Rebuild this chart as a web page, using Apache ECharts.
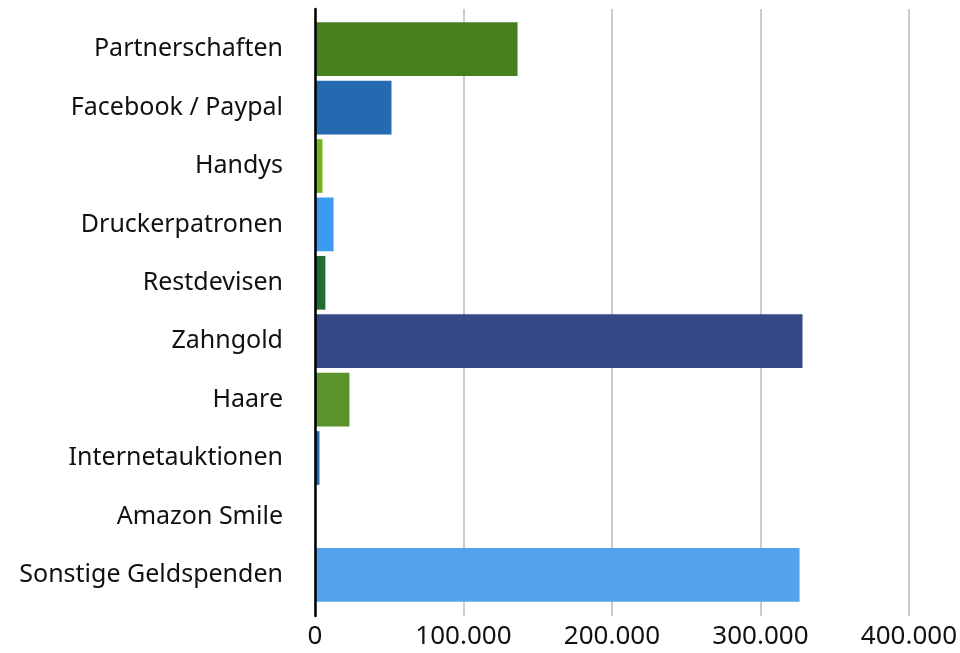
<!DOCTYPE html>
<html><head><meta charset="utf-8">
<script src="https://cdn.jsdelivr.net/npm/echarts@6/dist/echarts.min.js"></script>
<style>html,body{margin:0;padding:0;background:#fff}#c{width:960px;height:653px}</style>
</head><body><div id="c"></div>
<script>
const categories = ["Partnerschaften","Facebook / Paypal","Handys","Druckerpatronen","Restdevisen","Zahngold","Haare","Internetauktionen","Amazon Smile","Sonstige Geldspenden"];
const values = [136400, 51500, 5000, 12500, 7000, 328300, 23200, 3000, 0, 326300];
const colors = ["#467f1e","#2569b0","#76b41e","#3a9bf0","#236b32","#364886","#5a922c","#2569b0","#2569b0","#52a3ec"];
const xTicks = [0, 100000, 200000, 300000, 400000];

const fmt = v => String(v).replace(/\B(?=(\d{3})+(?!\d))/g, '.');
const FONT = '"Noto Sans", sans-serif';
const chart = echarts.init(document.getElementById('c'), null, {renderer:'canvas'});
chart.setOption({
  animation:false,
  grid:[
    {left:315, right:51, top:9, bottom:37},
    {left:315, right:51, top:20, bottom:49}
  ],
  xAxis:[
    {gridIndex:0, type:'value', min:xTicks[0], max:xTicks[xTicks.length-1], interval:100000,
     axisLine:{show:false}, axisTick:{show:false},
     splitLine:{show:true, lineStyle:{color:'#cccccc', width:2}},
     axisLabel:{formatter:fmt, fontSize:26, color:'#111', fontFamily:FONT, margin:8}},
    {gridIndex:1, type:'value', min:xTicks[0], max:xTicks[xTicks.length-1], interval:100000, show:false}
  ],
  yAxis:[
    {gridIndex:0, type:'value', min:0, max:1, axisLabel:{show:false}, splitLine:{show:false}, axisTick:{show:false},
     axisLine:{show:true, lineStyle:{color:'#000', width:2.5}}, z:10},
    {gridIndex:1, type:'category', data:categories, inverse:true,
     axisLine:{show:false}, axisTick:{show:false}, splitLine:{show:false},
     axisLabel:{fontSize:25, color:'#111', fontFamily:FONT, margin:32}}
  ],
  series:[{
    type:'bar', xAxisIndex:1, yAxisIndex:1, barCategoryGap:'8%',
    data: values.map((v,i)=>({value:v, itemStyle:{color:colors[i]}})),
    z:2
  }]
});
</script></body></html>
